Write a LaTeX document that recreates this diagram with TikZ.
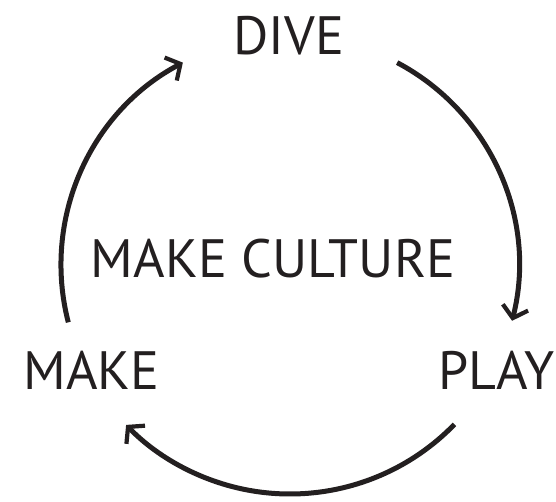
\documentclass[tikz,border=0pt]{standalone}
\usepackage{fontspec}
\setmainfont{PT Sans}
\usetikzlibrary{arrows.meta}
\definecolor{ink}{RGB}{35,31,32}
\begin{document}
\begin{tikzpicture}[x=1pt,y=1pt,
  lbl/.style={font=\fontsize{54}{60}\selectfont, inner sep=0pt, text=ink},
  cyc/.style={draw=ink, line width=5pt, -{Straight Barb[length=11pt,width=26pt,line width=4.2pt]}}]
\useasboundingbox (0,0) rectangle (556,501);
\clip (0,0) rectangle (556,501);
\node[lbl, anchor=base] (dive) at (289,446) {DIVE};
\node[lbl, anchor=base] (culture) at (273,224) {MAKE CULTURE};
\node[lbl, anchor=base] (make) at (91.5,112) {MAKE};
\node[lbl, anchor=base west] (play) at (438,112) {PLAY};
\coordinate (c) at (290,236);
\path (c) ++(62.1:229) coordinate (a1);
\path (c) ++(-44.1:229) coordinate (a2);
\path (c) ++(194.5:229) coordinate (a3);
\draw[cyc] (a1) arc[start angle=62.1, end angle=-14.1, radius=229];
\draw[cyc] (a2) arc[start angle=-44.1, end angle=-135.7, radius=229];
\draw[cyc] (a3) arc[start angle=194.5, end angle=117.9, radius=229];
\end{tikzpicture}
\end{document}
